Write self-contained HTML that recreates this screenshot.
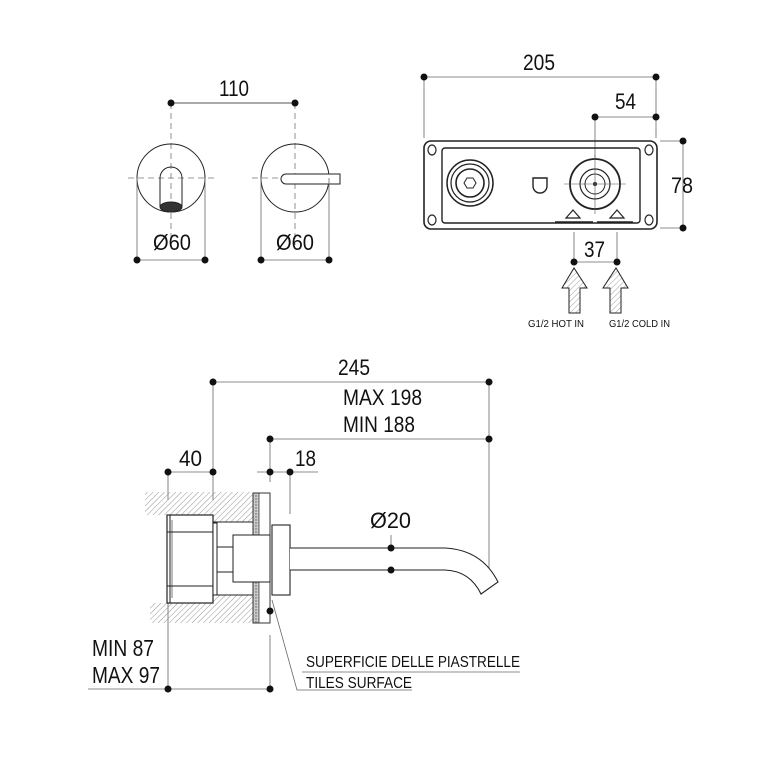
<!DOCTYPE html>
<html><head><meta charset="utf-8"><style>
html,body{margin:0;padding:0;background:#fff;}
svg{display:block;}
text{font-family:"Liberation Sans Narrow","Liberation Sans",sans-serif;fill:#111;}
</style></head><body>
<svg width="770" height="766" viewBox="0 0 770 766" xmlns="http://www.w3.org/2000/svg">
<defs>
<pattern id="h" width="4" height="4" patternUnits="userSpaceOnUse" patternTransform="rotate(45)">
<line x1="0" y1="0" x2="0" y2="4" stroke="#888" stroke-width="0.9"/></pattern>
<pattern id="h2" width="4" height="4" patternUnits="userSpaceOnUse" patternTransform="rotate(45)">
<line x1="0" y1="0" x2="0" y2="4" stroke="#777" stroke-width="0.7"/></pattern>
<pattern id="st" width="3" height="3" patternUnits="userSpaceOnUse">
<rect width="3" height="3" fill="#ccc"/><circle cx="1" cy="1" r="0.7" fill="#555"/></pattern>
</defs>
<g stroke="#222" fill="none" stroke-width="1">
<line x1="171" y1="103" x2="295" y2="103" stroke="#555"/>
<g stroke="#777" stroke-dasharray="6,4" stroke-width="0.8">
<line x1="171" y1="103" x2="171" y2="245"/><line x1="295" y1="103" x2="295" y2="245"/>
<line x1="128" y1="178" x2="214" y2="178"/><line x1="252" y1="178" x2="338" y2="178"/>
</g>
<circle cx="171" cy="178" r="34"/><circle cx="295" cy="178" r="34"/>
<path d="M160 206 V178 a11 11 0 0 1 22 0 V206"/>
<ellipse cx="171" cy="207" rx="11" ry="5" fill="#333"/>
<path d="M286 174 H340 V184 H286 a5 5 0 0 1 0 -10 Z" fill="#fff"/>
<g stroke="#666" stroke-width="0.8">
<line x1="137" y1="178" x2="137" y2="260"/><line x1="205" y1="178" x2="205" y2="260"/>
<line x1="261" y1="178" x2="261" y2="260"/><line x1="329" y1="178" x2="329" y2="260"/>
<line x1="137" y1="260" x2="205" y2="260"/><line x1="261" y1="260" x2="329" y2="260"/>
</g>

<g stroke="#666" stroke-width="0.8">
<line x1="424" y1="77" x2="656" y2="77"/><line x1="424" y1="77" x2="424" y2="138"/><line x1="656" y1="77" x2="656" y2="138"/>
<line x1="595" y1="117" x2="656" y2="117"/><line x1="595" y1="117" x2="595" y2="160"/>
<line x1="660" y1="141" x2="683" y2="141"/><line x1="660" y1="228" x2="683" y2="228"/><line x1="683" y1="141" x2="683" y2="228"/>
<line x1="574" y1="232" x2="574" y2="262"/><line x1="617" y1="232" x2="617" y2="262"/><line x1="574" y1="262" x2="617" y2="262"/>
</g>
<rect x="424" y="141" width="233" height="88" rx="7" stroke-width="1.6"/>
<rect x="442" y="148" width="198" height="75" rx="3" stroke-width="1.4"/>
<g stroke-width="1.2">
<ellipse cx="432" cy="150" rx="4" ry="5"/><ellipse cx="649" cy="150" rx="4" ry="5"/>
<ellipse cx="432" cy="220" rx="4" ry="5"/><ellipse cx="649" cy="220" rx="4" ry="5"/>
</g>
<circle cx="470" cy="183" r="23" stroke-width="1.5"/>
<circle cx="470" cy="183" r="19" stroke-width="1.2"/>
<circle cx="470" cy="183" r="14" stroke-width="1.6"/>
<polygon points="464,183 467,178 473,178 476,183 473,188 467,188"/>
<circle cx="595" cy="184" r="25" stroke-width="1.8"/>
<circle cx="595" cy="184" r="15" stroke-width="1.2"/>
<circle cx="595" cy="184" r="10"/>
<circle cx="595" cy="184" r="1.5" fill="#222"/>
<line x1="564" y1="184" x2="626" y2="184" stroke="#555" stroke-width="0.6"/>
<line x1="595" y1="155" x2="595" y2="214" stroke="#555" stroke-width="0.6"/>
<path d="M533 178 h14 v8 a7 7 0 0 1 -14 0 Z" stroke-width="1.4"/>
<path d="M566 218 l7 -8 l7 8 Z M610 218 l7 -8 l7 8 Z" stroke-width="1.2"/>
<line x1="555" y1="222" x2="593" y2="222" stroke-width="1.6"/><line x1="597" y1="222" x2="633" y2="222" stroke-width="1.6"/>
<path d="M569 313 V288 H562 L574 268 L587 288 H580 V313 Z" fill="url(#h2)"/>
<path d="M610 313 V288 H603 L616 268 L628 288 H621 V313 Z" fill="url(#h2)"/>

<g stroke="#666" stroke-width="0.8">
<line x1="213" y1="382" x2="489" y2="382"/><line x1="213" y1="382" x2="213" y2="500"/>
<line x1="489" y1="382" x2="489" y2="578"/>
<line x1="270" y1="439" x2="489" y2="439"/><line x1="270" y1="439" x2="270" y2="482"/>
<line x1="168" y1="472" x2="213" y2="472"/><line x1="168" y1="472" x2="168" y2="500"/>
<line x1="257" y1="472" x2="318" y2="472"/><line x1="290" y1="472" x2="290" y2="514"/>
<line x1="391" y1="535" x2="391" y2="570"/>
<line x1="168" y1="603" x2="168" y2="689"/><line x1="270" y1="635" x2="270" y2="689"/>
<line x1="88" y1="689" x2="270" y2="689"/>
<polyline points="272,600 297,690 412,690"/>
<line x1="302" y1="672" x2="520" y2="672"/>
</g>
<path d="M145 492 H253 V623 H150 V603 H167 V515 H145 Z" fill="url(#h)" stroke="none"/>
<rect x="213" y="522" width="40" height="73" fill="#fff" stroke="#222"/>
<rect x="253" y="493" width="6" height="130" fill="url(#st)" stroke="#444" stroke-width="0.8"/>
<rect x="253" y="493" width="17" height="130" stroke="#333"/>
<rect x="167" y="515" width="46" height="88" fill="#fff" stroke-width="1.2"/>
<line x1="170" y1="515" x2="170" y2="603"/>
<line x1="172" y1="520" x2="172" y2="598" stroke-width="0.6"/>
<line x1="167" y1="532" x2="213" y2="532"/><line x1="167" y1="586" x2="213" y2="586"/>
<rect x="213" y="523" width="4" height="72" fill="#fff"/>
<rect x="233" y="535" width="37" height="47" fill="#fff"/>
<rect x="217" y="547" width="16" height="25" fill="#fff"/>
<rect x="272" y="525" width="18" height="70" fill="#fff" stroke-width="1.1"/>
<line x1="270" y1="535" x2="270" y2="582"/>
<path d="M290 548 H445 Q482 550 498 582 L481 594 Q470 571 445 570 H290" fill="#fff" stroke-width="1.1"/>
</g>
<g fill="#111">
<circle cx="171" cy="103" r="3.5"/><circle cx="295" cy="103" r="3.5"/>
<circle cx="137" cy="260" r="3.5"/><circle cx="205" cy="260" r="3.5"/>
<circle cx="261" cy="260" r="3.5"/><circle cx="329" cy="260" r="3.5"/>
<circle cx="424" cy="77" r="3.5"/><circle cx="656" cy="77" r="3.5"/>
<circle cx="595" cy="117" r="3.5"/><circle cx="656" cy="117" r="3.5"/>
<circle cx="683" cy="141" r="3.5"/><circle cx="683" cy="228" r="3.5"/>
<circle cx="574" cy="262" r="3.5"/><circle cx="617" cy="262" r="3.5"/>
<circle cx="213" cy="382" r="3.5"/><circle cx="489" cy="382" r="3.5"/>
<circle cx="270" cy="439" r="3.5"/><circle cx="489" cy="439" r="3.5"/>
<circle cx="168" cy="472" r="3.5"/><circle cx="213" cy="472" r="3.5"/>
<circle cx="270" cy="472" r="3.5"/><circle cx="290" cy="472" r="3.5"/>
<circle cx="391" cy="548" r="3.5"/><circle cx="391" cy="570" r="3.5"/>
<circle cx="270" cy="611" r="3.5"/>
<circle cx="168" cy="689" r="3.5"/><circle cx="270" cy="689" r="3.5"/>
</g>
<g font-size="22">
<text x="219" y="96" textLength="30" lengthAdjust="spacingAndGlyphs">110</text>
<text x="153" y="250" textLength="38" lengthAdjust="spacingAndGlyphs">Ø60</text>
<text x="276" y="250" textLength="38" lengthAdjust="spacingAndGlyphs">Ø60</text>
<text x="523" y="70" textLength="32" lengthAdjust="spacingAndGlyphs">205</text>
<text x="615" y="109" textLength="21" lengthAdjust="spacingAndGlyphs">54</text>
<text x="671" y="193" textLength="22" lengthAdjust="spacingAndGlyphs">78</text>
<text x="584" y="257" textLength="21" lengthAdjust="spacingAndGlyphs">37</text>
<text x="338" y="375" textLength="32" lengthAdjust="spacingAndGlyphs">245</text>
<text x="343" y="405" textLength="79" lengthAdjust="spacingAndGlyphs">MAX 198</text>
<text x="343" y="432" textLength="72" lengthAdjust="spacingAndGlyphs">MIN 188</text>
<text x="179" y="466" textLength="23" lengthAdjust="spacingAndGlyphs">40</text>
<text x="295" y="466" textLength="21" lengthAdjust="spacingAndGlyphs">18</text>
<text x="370" y="528" textLength="41" lengthAdjust="spacingAndGlyphs">Ø20</text>
<text x="92" y="656" font-size="23" textLength="62" lengthAdjust="spacingAndGlyphs">MIN 87</text>
<text x="92" y="683" font-size="23" textLength="68" lengthAdjust="spacingAndGlyphs">MAX 97</text>
</g>
<text x="306" y="667" font-size="16" textLength="214" lengthAdjust="spacingAndGlyphs">SUPERFICIE DELLE PIASTRELLE</text>
<text x="306" y="688" font-size="16" textLength="106" lengthAdjust="spacingAndGlyphs">TILES SURFACE</text>
<text x="528" y="327" font-size="10.5" textLength="56" lengthAdjust="spacingAndGlyphs">G1/2 HOT IN</text>
<text x="609" y="327" font-size="10.5" textLength="61" lengthAdjust="spacingAndGlyphs">G1/2 COLD IN</text>
</svg>
</body></html>
